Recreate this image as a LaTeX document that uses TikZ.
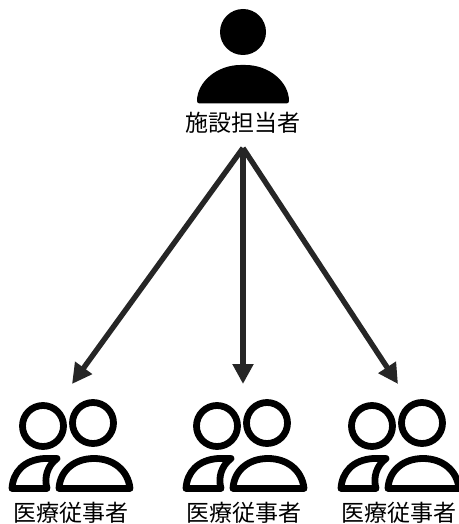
\documentclass[tikz,border=0pt]{standalone}
\usepackage{fontspec}
\setmainfont{Noto Sans CJK JP}
\usetikzlibrary{arrows.meta}
\tikzset{
  iconline/.style={draw=black,line width=6.8pt,line join=round,fill=none},
  lbl/.style={font=\fontsize{23pt}{25pt}\selectfont,text=black,inner sep=0pt,anchor=center},
  conn/.style={draw=black!85,line width=5.4pt,-{Triangle[length=20pt,width=20pt]}}
}
\newcommand{\groupicon}[1]{%
  \begin{scope}[shift={(#1,0)}]
    \draw[iconline] (43,426) circle (20.5);
    \draw[iconline] (93,423) circle (20.5);
    \draw[iconline] (57,458.5) -- (44,458.5) .. controls (24,460) and (13,472) .. (12,488.5) -- (47,488.5) .. controls (44,478) and (47,466) .. (57,458.5) -- cycle;
    \draw[iconline] (59,488.5) .. controls (60,470) and (75,458.5) .. (94,458.5) .. controls (113,458.5) and (128,470) .. (130,488.5) -- cycle;
  \end{scope}}
\begin{document}
\begin{tikzpicture}[x=1pt,y=-1pt]
\useasboundingbox (0,0) rectangle (458,524);
\fill[black] (243,32) circle (23);
\fill[black,rounded corners=2.5pt] (197,103.5) .. controls (197,82) and (217,65) .. (243,65) .. controls (269,65) and (289,82) .. (289,103.5) -- cycle;
\node[lbl] (mgr) at (243,123) {施設担当者};
\groupicon{0}
\groupicon{174}
\groupicon{329}
\node[lbl] (w1) at (71,513) {医療従事者};
\node[lbl] (w2) at (243.5,513) {医療従事者};
\node[lbl] (w3) at (398.5,513) {医療従事者};
\coordinate (src) at (243,148);
\coordinate (t1) at (72,384);
\coordinate (t2) at (243,384);
\coordinate (t3) at (398,384);
\draw[conn] (src) -- (t1);
\draw[conn] (src) -- (t2);
\draw[conn] (src) -- (t3);
\end{tikzpicture}
\end{document}
